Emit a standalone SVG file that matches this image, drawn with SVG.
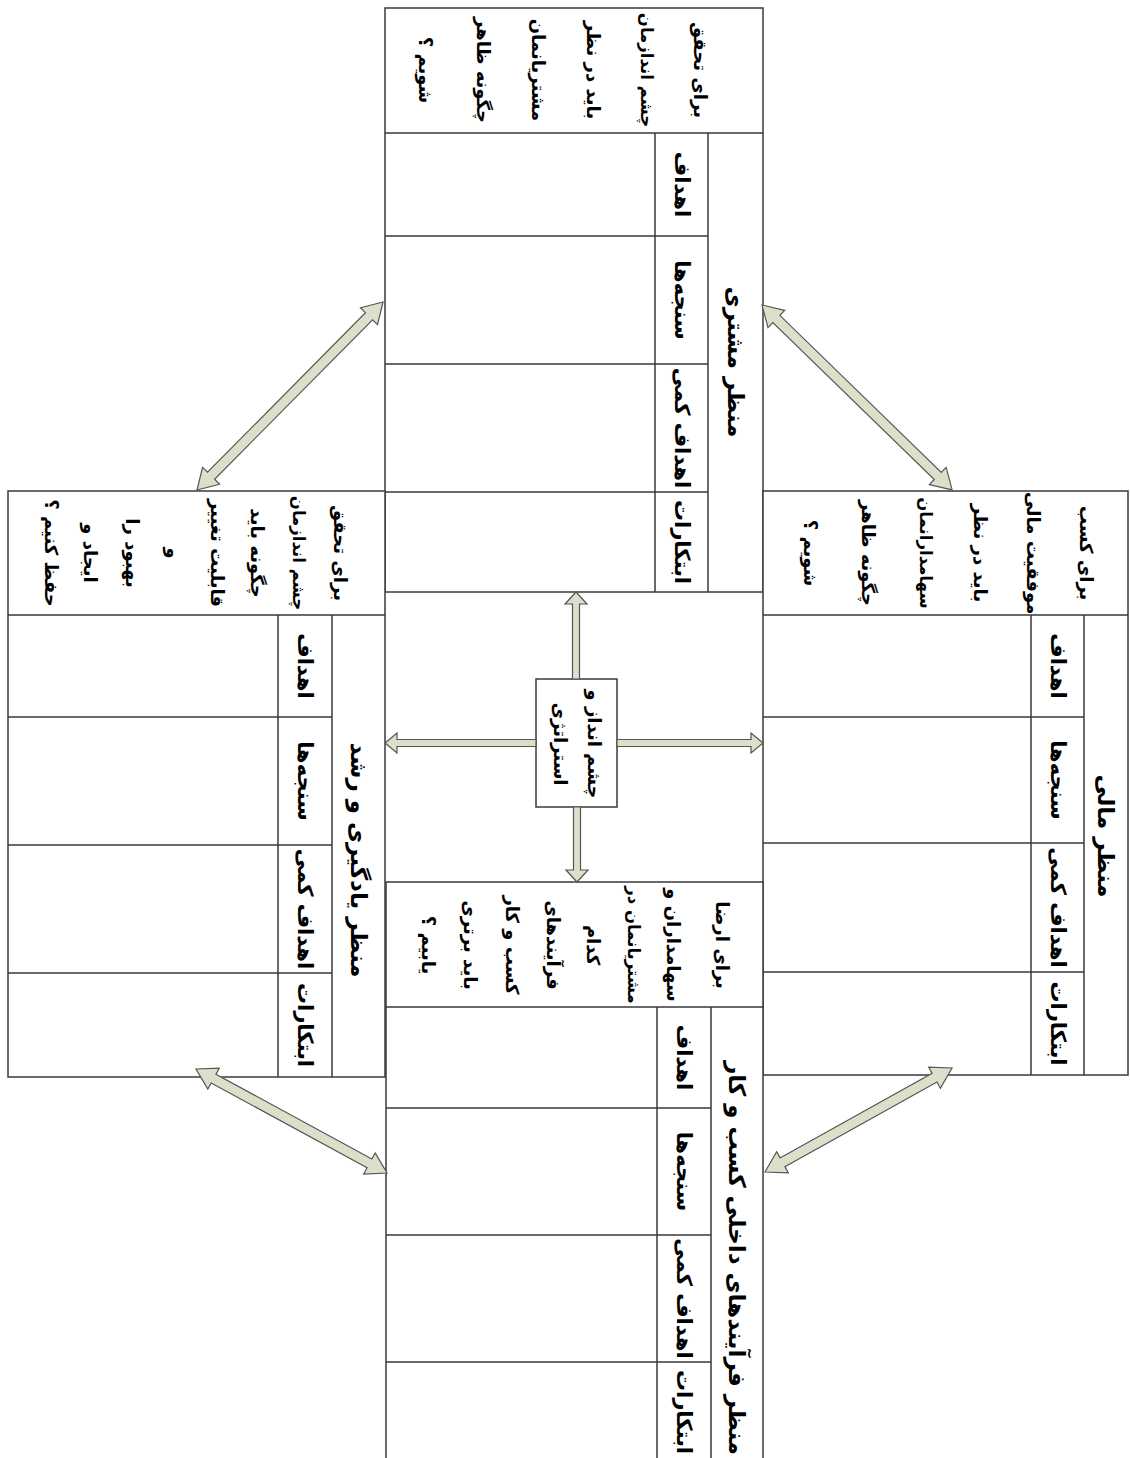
<svg xmlns="http://www.w3.org/2000/svg" width="1130" height="1458" viewBox="0 0 1130 1458">
<style>
.cell{fill:#fff;stroke:#3a3a3a;stroke-width:1.5}
.ln{stroke:#3a3a3a;stroke-width:1.5;fill:none}
.t{font-family:"DejaVu Sans",sans-serif;font-weight:bold;fill:#000;text-anchor:middle;dominant-baseline:central;direction:rtl}
.title{font-size:23px}
.lbl{font-size:21px}
.q{font-size:18px}
.s{font-size:16.5px}
.arr{fill:#dcdfca;stroke:#555;stroke-width:1.2}
</style>
<rect width="1130" height="1458" fill="#fff"/>

<g id="customer">
<rect class="cell" x="385" y="8" width="378" height="584"/>
<path class="ln" d="M385 133H763M708 133V592M655 133V592M385 236H708M385 364H708M385 492H708"/>
<text class="t title" x="735.5" y="362" transform="rotate(90 735.5 362)">منظر مشتری</text>
<text class="t lbl" x="681.5" y="184.5" transform="rotate(90 681.5 184.5)">اهداف</text>
<text class="t lbl" x="681.5" y="300" transform="rotate(90 681.5 300)">سنجه‌ها</text>
<text class="t lbl" x="681.5" y="428" transform="rotate(90 681.5 428)">اهداف کمی</text>
<text class="t lbl" x="681.5" y="542" transform="rotate(90 681.5 542)">ابتکارات</text>
<g class="t q">
<text x="700" y="70" transform="rotate(90 700 70)">برای تحقق</text>
<text class="s" x="646" y="70" transform="rotate(90 646 70)">چشم اندازمان</text>
<text x="593" y="70" transform="rotate(90 593 70)">باید در نظر</text>
<text x="538" y="70" transform="rotate(90 538 70)">مشتریانمان</text>
<text x="483" y="70" transform="rotate(90 483 70)">چگونه ظاهر</text>
<text x="425" y="70" transform="rotate(90 425 70)">شویم ؟</text>
</g>
</g>

<g id="financial">
<rect class="cell" x="763" y="491" width="365" height="584"/>
<path class="ln" d="M763 615H1128M1031 615V1075M1084 615V1075M763 717H1084M763 843H1084M763 972H1084"/>
<text class="t title" x="1106" y="836" transform="rotate(90 1106 836)">منظر مالی</text>
<text class="t lbl" x="1057.5" y="666" transform="rotate(90 1057.5 666)">اهداف</text>
<text class="t lbl" x="1057.5" y="780" transform="rotate(90 1057.5 780)">سنجه‌ها</text>
<text class="t lbl" x="1057.5" y="907.5" transform="rotate(90 1057.5 907.5)">اهداف کمی</text>
<text class="t lbl" x="1057.5" y="1023.5" transform="rotate(90 1057.5 1023.5)">ابتکارات</text>
<g class="t q">
<text x="1086" y="553" transform="rotate(90 1086 553)">برای کسب</text>
<text x="1033" y="553" transform="rotate(90 1033 553)">موفقیت مالی</text>
<text x="980" y="553" transform="rotate(90 980 553)">باید در نظر</text>
<text class="s" x="925" y="553" transform="rotate(90 925 553)">سهامدارانمان</text>
<text x="868" y="553" transform="rotate(90 868 553)">چگونه ظاهر</text>
<text x="810" y="553" transform="rotate(90 810 553)">شویم ؟</text>
</g>
</g>

<g id="learning">
<rect class="cell" x="8" y="491" width="377" height="586"/>
<path class="ln" d="M8 615H385M278 615V1077M332 615V1077M8 717H332M8 845H332M8 973H332"/>
<text class="t title" x="358.5" y="860" transform="rotate(90 358.5 860)">منظر یادگیری و رشد</text>
<text class="t lbl" x="305" y="666" transform="rotate(90 305 666)">اهداف</text>
<text class="t lbl" x="305" y="781" transform="rotate(90 305 781)">سنجه‌ها</text>
<text class="t lbl" x="305" y="909" transform="rotate(90 305 909)">اهداف کمی</text>
<text class="t lbl" x="305" y="1025" transform="rotate(90 305 1025)">ابتکارات</text>
<g class="t q">
<text x="340" y="553" transform="rotate(90 340 553)">برای تحقق</text>
<text class="s" x="298" y="553" transform="rotate(90 298 553)">چشم اندازمان</text>
<text x="257" y="553" transform="rotate(90 257 553)">چگونه باید</text>
<text x="217" y="553" transform="rotate(90 217 553)">قابلیت تغییر</text>
<text x="173" y="553" transform="rotate(90 173 553)">و</text>
<text x="132" y="553" transform="rotate(90 132 553)">بهبود را</text>
<text x="90" y="553" transform="rotate(90 90 553)">ایجاد و</text>
<text x="51" y="553" transform="rotate(90 51 553)">حفظ کنیم ؟</text>
</g>
</g>

<g id="internal">
<rect class="cell" x="386" y="882" width="377" height="600"/>
<path class="ln" d="M386 1007H763M657 1007V1482M711 1007V1482M386 1108H711M386 1235H711M386 1362H711"/>
<text class="t title" x="737" y="1258" transform="rotate(90 737 1258)">منظر فرآیندهای داخلی کسب و کار</text>
<text class="t lbl" x="684" y="1057.5" transform="rotate(90 684 1057.5)">اهداف</text>
<text class="t lbl" x="684" y="1171.5" transform="rotate(90 684 1171.5)">سنجه‌ها</text>
<text class="t lbl" x="684" y="1298.5" transform="rotate(90 684 1298.5)">اهداف کمی</text>
<text class="t lbl" x="684" y="1412" transform="rotate(90 684 1412)">ابتکارات</text>
<g class="t q">
<text x="722" y="945" transform="rotate(90 722 945)">برای ارضا</text>
<text x="673" y="945" transform="rotate(90 673 945)">سهامداران و</text>
<text class="s" x="633" y="945" transform="rotate(90 633 945)">مشتریانمان در</text>
<text x="593" y="945" transform="rotate(90 593 945)">کدام</text>
<text x="553" y="945" transform="rotate(90 553 945)">فرآیندهای</text>
<text x="512" y="945" transform="rotate(90 512 945)">کسب و کار</text>
<text x="470" y="945" transform="rotate(90 470 945)">باید برتری</text>
<text x="428" y="945" transform="rotate(90 428 945)">یابیم ؟</text>
</g>
</g>

<g id="vision">
<rect class="cell" x="536" y="679" width="81" height="128"/>
<text class="t q" x="594" y="744" transform="rotate(90 594 744)">چشم انداز و</text>
<text class="t q" x="560" y="744" transform="rotate(90 560 744)">استراتژی</text>
</g>

<g id="connectors">
<polygon class="arr" points="572.5,679 572.5,604 565,604 576,592 587,604 579.5,604 579.5,679"/>
<polygon class="arr" points="573.5,807 573.5,870 566,870 577,882 588,870 580.5,870 580.5,807"/>
<polygon class="arr" points="536,739.5 397,739.5 397,733 385,743 397,753 397,746.5 536,746.5"/>
<polygon class="arr" points="617,739.5 751,739.5 751,733 763,743 751,753 751,746.5 617,746.5"/>
<path class="arr" transform="translate(197 490) rotate(-45.3)" d="M0 0L20 -12L20 -5L244.5 -5L244.5 -12L264.5 0L244.5 12L244.5 5L20 5L20 12Z"/>
<path class="arr" transform="translate(762 305) rotate(44.2)" d="M0 0L20 -12L20 -5L245.2 -5L245.2 -12L265.2 0L245.2 12L245.2 5L20 5L20 12Z"/>
<path class="arr" transform="translate(196 1069) rotate(28.57)" d="M0 0L20 -12L20 -5L197.5 -5L197.5 -12L217.5 0L197.5 12L197.5 5L20 5L20 12Z"/>
<path class="arr" transform="translate(765 1172) rotate(-29.08)" d="M0 0L20 -12L20 -5L194 -5L194 -12L214 0L194 12L194 5L20 5L20 12Z"/>
</g>
</svg>
